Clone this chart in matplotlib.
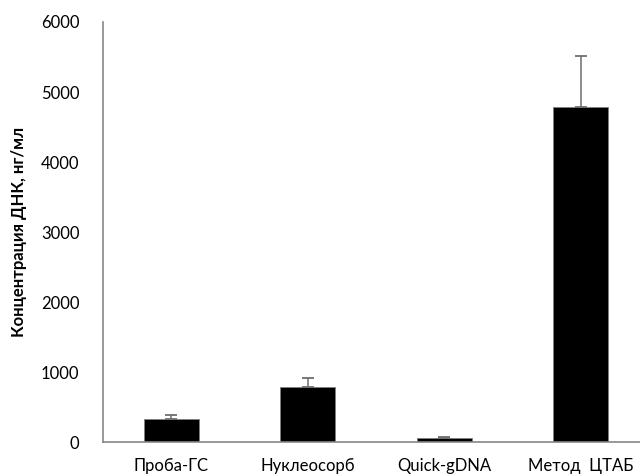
# Bar chart of DNA concentration by extraction method
import matplotlib
matplotlib.use("Agg")
import matplotlib.pyplot as plt

methods = ["Проба-ГС", "Нуклеосорб", "Quick-gDNA", "Метод  ЦТАБ"]
concentration = [333, 785, 66, 4790]
error_up = [52, 137, 14, 728]

plt.rcParams["font.family"] = ["Lato", "DejaVu Sans"]

fig = plt.figure(figsize=(6.4, 4.76), dpi=100)
ax = fig.add_axes([103 / 640, 33.7 / 476, 546 / 640, 420.3 / 476])

x = list(range(len(methods)))
ax.bar(x, concentration, width=0.4, color="black", edgecolor="#7f7f7f", linewidth=0.6, zorder=2)
ax.errorbar(x, concentration, yerr=[[0] * len(x), error_up], fmt="none",
            ecolor="#6e6e6e", elinewidth=1.1, capsize=4.5, capthick=1.3, zorder=3)

ax.set_xlim(-0.5, 3.5)
ax.set_ylim(0, 6000)
ax.set_yticks(range(0, 6001, 1000))
ax.set_xticks(x)
ax.set_xticklabels(methods)
ax.tick_params(axis="y", length=0, pad=17, labelsize=12)
ax.tick_params(axis="x", length=0, pad=11, labelsize=12)

for side in ["top", "right"]:
    ax.spines[side].set_visible(False)
for side in ["left", "bottom"]:
    ax.spines[side].set_color("#868686")
    ax.spines[side].set_linewidth(1.2)

ax.set_ylabel("Концентрация ДНК, нг/мл", fontsize=12, fontweight="bold")
ax.yaxis.set_label_coords(-76 / 546, 0.5)

fig.savefig("out.png", dpi=100)
